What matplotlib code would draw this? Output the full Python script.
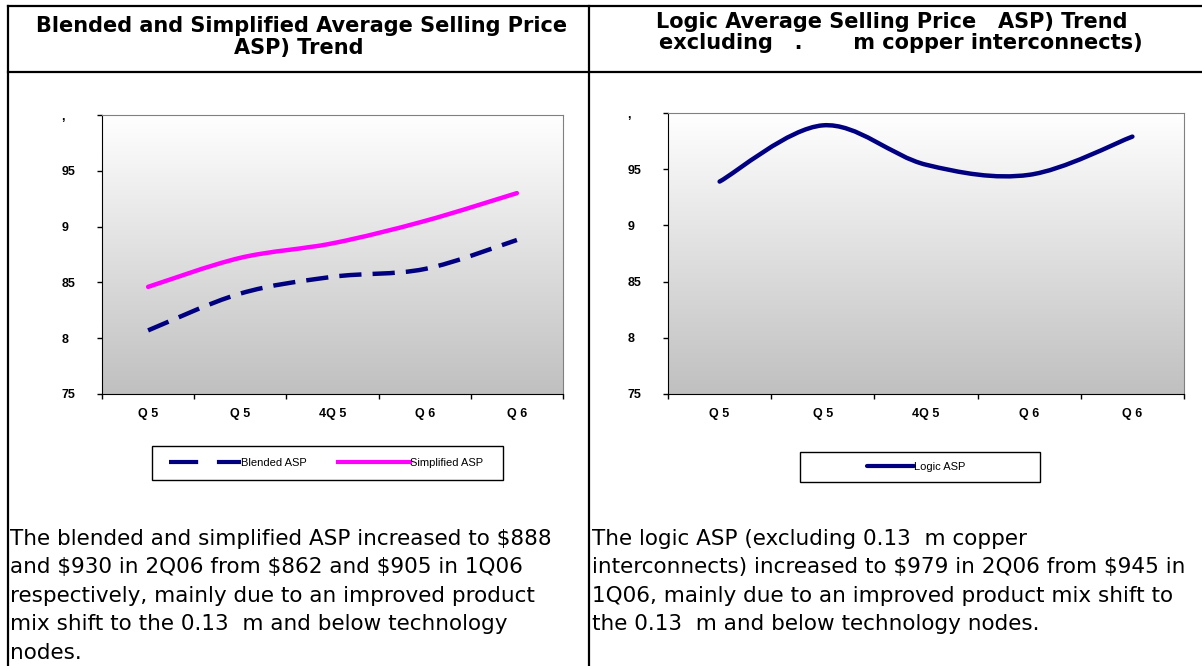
import numpy as np
import matplotlib as mpl
mpl.use('Agg')
import matplotlib.pyplot as plt
from matplotlib.path import Path
from matplotlib.patches import PathPatch, Rectangle
from matplotlib.lines import Line2D
from matplotlib.colors import LinearSegmentedColormap

plt.rcParams['font.family'] = ['Liberation Sans', 'DejaVu Sans']

# data (glyphs missing in the source are left out)
quarters = ['Q 5', 'Q 5', '4Q 5', 'Q 6', 'Q 6']
blended_asp = [807, 840, 855, 862, 888]
simplified_asp = [846, 872, 885, 905, 930]
logic_asp = [939, 989, 954, 945, 979]
y_ticks = [750, 800, 850, 900, 950, 1000]
y_labels = ['75', '8', '85', '9', '95', ',']

W, H = 1202, 666
fig = plt.figure(figsize=(W / 100, H / 100), dpi=100)


def box(l, t, r, b):
    return [l / W, 1 - b / H, (r - l) / W, (b - t) / H]


def px(x, y):
    return x / W, 1 - y / H


def smooth_line(ax, ys, **kw):
    # excel style smoothed line: bezier through the points
    pts = np.column_stack([np.arange(len(ys), dtype=float), np.asarray(ys, dtype=float)])
    n = len(pts)
    verts = [pts[0]]
    codes = [Path.MOVETO]
    for i in range(n - 1):
        p0 = pts[max(i - 1, 0)]
        p1 = pts[i]
        p2 = pts[i + 1]
        p3 = pts[min(i + 2, n - 1)]
        verts += [p1 + (p2 - p0) / 6, p2 - (p3 - p1) / 6, p2]
        codes += [Path.CURVE4] * 3
    ax.add_patch(PathPatch(Path(verts, codes), fill=False, zorder=3, **kw))


gray = LinearSegmentedColormap.from_list('bg', ['#c0c0c0', '#ffffff'])


def setup(ax):
    ax.set_xlim(-0.5, 4.5)
    ax.set_ylim(750, 1000)
    grad = np.linspace(1, 0, 256).reshape(-1, 1)
    ax.imshow(grad, extent=[0, 1, 0, 1], transform=ax.transAxes, aspect='auto',
              cmap=gray, vmin=0, vmax=1, zorder=0)
    ax.set_yticks(y_ticks)
    ax.set_yticklabels(y_labels, fontsize=9, fontweight='bold')
    ax.tick_params(axis='y', direction='out', length=3.6, width=1, pad=25.5)
    for t in ax.get_yticklabels():
        t.set_ha('left')
    ax.set_xticks(np.arange(-0.5, 5, 1))
    ax.set_xticklabels([])
    ax.set_xticks(range(5), minor=True)
    ax.set_xticklabels(quarters, minor=True, fontsize=9, fontweight='bold')
    ax.tick_params(axis='x', which='major', direction='out', length=3.6, width=1)
    ax.tick_params(axis='x', which='minor', length=0, pad=10)
    for s in ['top', 'right']:
        ax.spines[s].set_color('#808080')
    for s in ['left', 'bottom']:
        ax.spines[s].set_color('black')


navy = '#000080'
magenta = '#ff00ff'

ax1 = fig.add_axes(box(102, 115, 563, 394))
setup(ax1)
smooth_line(ax1, blended_asp, edgecolor=navy, lw=3.2, linestyle=(0, (5, 2.5)), capstyle='butt')
smooth_line(ax1, simplified_asp, edgecolor=magenta, lw=3.2, capstyle='round')

ax2 = fig.add_axes(box(668, 113, 1184, 394))
setup(ax2)
smooth_line(ax2, logic_asp, edgecolor=navy, lw=3.2, capstyle='round')

# legends, boxes drawn separately
for l, t, r, b in [(152, 446, 503, 480), (800, 452, 1040, 482)]:
    fig.add_artist(Rectangle(px(l, b), (r - l) / W, (b - t) / H, transform=fig.transFigure,
                             facecolor='white', edgecolor='black', lw=1))
h_blend = Line2D([], [], color=navy, lw=3, linestyle=(0, (7, 4.5)), dash_capstyle='butt')
h_simp = Line2D([], [], color=magenta, lw=3)
h_logic = Line2D([], [], color=navy, lw=3, solid_capstyle='round')
fig.legend([h_blend, h_simp], ['Blended ASP', 'Simplified ASP'], ncol=2,
           loc='center', bbox_to_anchor=px(326, 463), fontsize=8,
           handlelength=6.5, handletextpad=0, columnspacing=2.8, frameon=False)
fig.legend([h_logic], ['Logic ASP'], loc='center', bbox_to_anchor=px(916, 467),
           fontsize=8, handlelength=4.2, handletextpad=0, frameon=False)

# table borders
for xs, ys in [([8, 1202], [6, 6]), ([8, 1202], [72, 72]), ([8, 8], [6, 666]), ([589, 589], [6, 666])]:
    fig.add_artist(Line2D([x / W for x in xs], [1 - y / H for y in ys], color='black', lw=1.6))

# headers
tkw = dict(fontsize=15, fontweight='bold', ha='center', va='baseline', family='DejaVu Sans')
fig.text(*px(302, 32), 'Blended and Simplified Average Selling Price', **tkw)
fig.text(*px(299, 54), 'ASP) Trend', **tkw)
fig.text(*px(892, 28), 'Logic Average Selling Price   ASP) Trend', **tkw)
fig.text(*px(901, 49), 'excluding   .       m copper interconnects)', **tkw)

# commentary
left_lines = ['The blended and simplified ASP increased to $888',
              'and $930 in 2Q06 from $862 and $905 in 1Q06',
              'respectively, mainly due to an improved product',
              'mix shift to the 0.13  m and below technology',
              'nodes.']
right_lines = ['The logic ASP (excluding 0.13  m copper',
               'interconnects) increased to $979 in 2Q06 from $945 in',
               '1Q06, mainly due to an improved product mix shift to',
               'the 0.13  m and below technology nodes.']
pkw = dict(fontsize=15.5, va='baseline', family='DejaVu Sans', parse_math=False)
for i, s in enumerate(left_lines):
    fig.text(*px(10, 545 + 28.5 * i), s, **pkw)
for i, s in enumerate(right_lines):
    fig.text(*px(592, 545 + 28.5 * i), s, **pkw)

fig.savefig('out.png', dpi=100)
